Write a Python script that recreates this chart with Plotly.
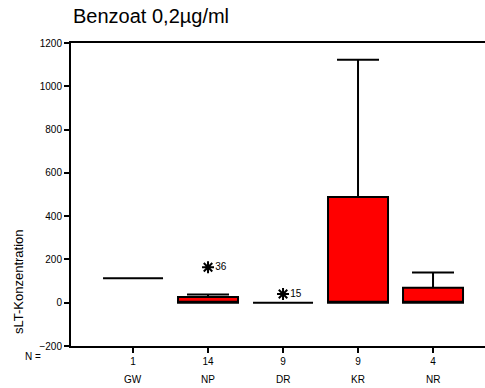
import plotly.graph_objects as go

categories = ["GW", "NP", "DR", "KR", "NR"]
n_counts = ["1", "14", "9", "9", "4"]
lower_fence = [113, 0, 0, 0, 0]
q1 = [113, 0, 0, 0, 0]
median = [113, 2, 0, 0, 0]
q3 = [113, 26, 0, 488, 69]
upper_fence = [113, 38, 0, 1123, 140]

outlier_pos = [1, 2]
outlier_val = [164, 40]
outlier_lbl = ["36", "15"]

xpos = list(range(len(categories)))
FONT = "Liberation Sans, Arial, sans-serif"
W, H = 485, 388
ML, MR, MT, MB = 71, 0, 43, 42
PH = H - MT - MB
PW = W - ML - MR

fig = go.Figure()
fig.add_trace(go.Box(
    x=xpos, q1=q1, median=median, q3=q3,
    lowerfence=lower_fence, upperfence=upper_fence,
    fillcolor="#FF0000", line=dict(color="black", width=2),
    whiskerwidth=0.7, width=0.8, boxpoints=False, showlegend=False,
    hoverinfo="skip",
))
fig.add_trace(go.Scatter(
    x=outlier_pos, y=outlier_val, mode="markers+text",
    marker=dict(symbol="asterisk-open", size=10, color="black",
                line=dict(color="black", width=2)),
    text=outlier_lbl, textposition="middle right",
    textfont=dict(family=FONT, size=10, color="black"),
    showlegend=False, hoverinfo="skip", cliponaxis=False,
))

for i, c in enumerate(categories):
    fig.add_annotation(x=xpos[i], y=-(379 - (H - MB)) / PH, xref="x", yref="paper",
                       yanchor="middle", text=c, showarrow=False,
                       font=dict(family=FONT, size=10, color="black"))
fig.add_annotation(x=(23 - ML) / PW, y=-(356 - (H - MB)) / PH, xref="paper", yref="paper",
                   text="N =", showarrow=False, xanchor="left", yanchor="middle",
                   font=dict(family=FONT, size=10, color="black"))
fig.add_annotation(x=(18 - ML) / PW, y=((H - MB) - 281) / PH, xref="paper", yref="paper",
                   text="sLT-Konzentration", showarrow=False, textangle=-90,
                   xanchor="center", yanchor="middle",
                   font=dict(family=FONT, size=13, color="black"))

fig.update_layout(
    width=W, height=H,
    margin=dict(l=ML, r=MR, t=MT, b=MB),
    paper_bgcolor="white", plot_bgcolor="white",
    boxmode="overlay",
    title=dict(text="Benzoat 0,2µg/ml", x=73 / W, xanchor="left",
               y=1 - 16 / H, yanchor="middle",
               font=dict(family=FONT, size=20, color="black")),
    font=dict(family=FONT, color="black"),
)
fig.update_xaxes(
    range=[-0.827, 4.693], tickvals=xpos, ticktext=n_counts,
    showline=True, linecolor="black", linewidth=2, mirror=True,
    ticks="outside", ticklen=5, tickwidth=1.5, tickcolor="black",
    showgrid=False, zeroline=False,
    tickfont=dict(family=FONT, size=10, color="black"),
)
fig.update_yaxes(
    range=[-200, 1200], tickvals=list(range(-200, 1201, 200)),
    showline=True, linecolor="black", linewidth=2, mirror=False,
    ticks="outside", ticklen=5, tickwidth=1.5, tickcolor="black",
    showgrid=False, zeroline=False,
    tickfont=dict(family=FONT, size=10, color="black"),
)

fig.write_html("out.html")
